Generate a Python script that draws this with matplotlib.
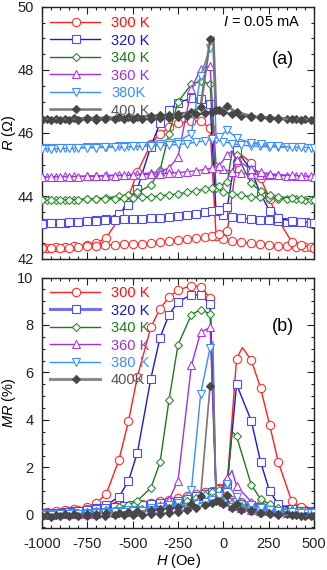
import numpy as np
import matplotlib
matplotlib.use('Agg')
import matplotlib.pyplot as plt
from matplotlib.ticker import MultipleLocator

plt.rcParams['font.family'] = ['Liberation Sans', 'DejaVu Sans']
plt.rcParams['mathtext.fontset'] = 'custom'
plt.rcParams['mathtext.it'] = 'Liberation Sans:italic'
plt.rcParams['mathtext.rm'] = 'Liberation Sans'

# --- data ---
TEMPS = [300, 320, 340, 360, 380, 400]
LABELS_A = ['300 K', '320 K', '340 K', '360 K', '380K', '400 K']
LABELS_B = ['300 K', '320 K', '340 K', '360 K', '380 K', '400K']

# baseline resistance (Ohm) for each temperature
R0 = [42.3, 43.1, 43.85, 44.6, 45.5, 46.45]

# field sweep from +500 down to -1000 Oe
H_DN = [500, 450, 400, 350, 300, 250, 200, 150, 100, 50, 0, -40, -73, -125, -176,
        -250, -300, -349, -400, -474, -523, -575, -645, -700, -750, -825, -875,
        -925, -975, -1000]
# field sweep from -1000 back up to +500 Oe
H_UP = [-1000, -950, -900, -850, -800, -750, -700, -650, -600, -550, -500, -450,
        -400, -350, -300, -250, -200, -150, -100, -60, -25, 22, 73, 154, 205,
        255, 303, 376, 426, 485, 500]

# MR (%) on the down sweep
MR_DN_300 = [0.18, 0.2, 0.22, 0.25, 0.3, 0.35, 0.42, 0.48, 0.55, 0.65, 0.8, 1.0, 9.13, 9.62,
             9.66, 9.47, 9.18, 8.68, 7.9, 5.82, 3.95, 2.33, 0.9, 0.49, 0.35, 0.25, 0.2,
             0.17, 0.12, 0.1]
MR_DN_320 = [0.12, 0.15, 0.18, 0.2, 0.25, 0.3, 0.33, 0.4, 0.45, 0.55, 0.7, 0.95, 8.88, 9.26,
             9.28, 8.97, 8.43, 7.47, 5.73, 2.62, 1.43, 0.77, 0.42, 0.29, 0.22, 0.15, 0.12,
             0.1, 0.08, 0.05]
MR_DN_340 = [0.05, 0.08, 0.1, 0.12, 0.15, 0.2, 0.25, 0.3, 0.38, 0.5, 0.65, 0.9, 8.47, 8.64,
             8.44, 7.16, 4.82, 2.21, 1.13, 0.6, 0.42, 0.33, 0.22, 0.15, 0.12, 0.08, 0.06,
             0.05, 0.03, 0.02]
MR_DN_360 = [0.03, 0.05, 0.07, 0.1, 0.12, 0.15, 0.18, 0.22, 0.28, 0.38, 0.55, 0.8, 7.9, 7.7,
             6.3, 1.44, 0.64, 0.4, 0.3, 0.22, 0.18, 0.15, 0.12, 0.1, 0.08, 0.06, 0.05,
             0.04, 0.03, 0.02]
MR_DN_380 = [0.08, 0.08, 0.1, 0.1, 0.12, 0.14, 0.16, 0.2, 0.25, 0.35, 0.5, 0.7, 7.05, 5.1,
             1.06, 0.5, 0.4, 0.33, 0.28, 0.22, 0.2, 0.17, 0.14, 0.12, 0.1, 0.08, 0.06,
             0.05, 0.03, 0.02]
MR_DN_400 = [-0.05, -0.03, 0.0, 0.02, 0.05, 0.08, 0.1, 0.15, 0.2, 0.3, 0.45, 0.6, 5.45, 0.8,
             0.45, 0.35, 0.28, 0.24, 0.2, 0.15, 0.12, 0.1, 0.08, 0.06, 0.05, 0.03, 0.02,
             0.0, -0.02, -0.03]

# MR (%) on the up sweep
MR_UP_300 = [0.08, 0.1, 0.12, 0.15, 0.2, 0.25, 0.3, 0.33, 0.36, 0.38, 0.4, 0.45, 0.5, 0.57,
             0.65, 0.72, 0.8, 0.88, 0.95, 1.0, 1.15, 1.4, 6.58, 6.52, 5.36, 3.8, 2.23,
             0.6, 0.35, 0.17, 0.15]
MR_UP_320 = [0.05, 0.08, 0.1, 0.14, 0.18, 0.22, 0.26, 0.3, 0.33, 0.37, 0.4, 0.43, 0.46, 0.5,
             0.55, 0.6, 0.67, 0.78, 0.9, 0.98, 1.08, 1.3, 5.5, 3.97, 2.25, 1.0, 0.46,
             0.25, 0.18, 0.12, 0.1]
MR_UP_340 = [0.02, 0.04, 0.05, 0.07, 0.08, 0.1, 0.12, 0.14, 0.16, 0.18, 0.2, 0.25, 0.3, 0.35,
             0.42, 0.5, 0.6, 0.72, 0.85, 0.95, 1.05, 1.35, 3.31, 1.27, 0.68, 0.45, 0.3,
             0.2, 0.15, 0.08, 0.05]
MR_UP_360 = [0.0, 0.01, 0.02, 0.03, 0.04, 0.05, 0.06, 0.08, 0.1, 0.12, 0.14, 0.16, 0.2, 0.23,
             0.27, 0.32, 0.38, 0.45, 0.55, 0.65, 0.8, 1.55, 1.22, 0.56, 0.35, 0.25, 0.18,
             0.12, 0.08, 0.05, 0.04]
MR_UP_380 = [0.0, 0.0, 0.02, 0.03, 0.05, 0.06, 0.08, 0.1, 0.12, 0.14, 0.16, 0.18, 0.2, 0.22,
             0.25, 0.3, 0.35, 0.45, 0.55, 0.65, 0.8, 1.31, 0.75, 0.4, 0.3, 0.22, 0.18,
             0.12, 0.1, 0.08, 0.08]
MR_UP_400 = [-0.05, -0.07, -0.05, -0.06, -0.05, -0.03, -0.05, -0.03, -0.02, -0.02, 0.0, 0.0,
             0.02, 0.05, 0.08, 0.12, 0.2, 0.3, 0.4, 0.5, 0.6, 0.85, 0.45, 0.2, 0.1, 0.05,
             0.0, -0.02, -0.05, -0.05, -0.05]

MR_DN = [MR_DN_300, MR_DN_320, MR_DN_340, MR_DN_360, MR_DN_380, MR_DN_400]
MR_UP = [MR_UP_300, MR_UP_320, MR_UP_340, MR_UP_360, MR_UP_380, MR_UP_400]

# line-only points (no marker drawn there)
EXTRA_T = [300, 340, 360, 380, 400]
EXTRA_BRANCH = ['up', 'up', 'up', 'dn', 'dn']
EXTRA_H = [105, 48, 48, -57, -55]
EXTRA_MR = [7.05, 3.52, 1.87, 7.3, 5.57]

# --- styles ---
LINE_COL = ['#ff2020', '#1a1ad0', '#1f7a1f', '#a030e0', '#3a8cff', '#777777']
MK_COL = ['#ff3030', '#4c4cf0', '#2a8a2a', '#a83ae6', '#3a8cff', '#474747']
MARKERS = ['o', 's', 'D', '^', 'v', 'D']
MSIZE = [6, 6, 4.3, 6, 6, 4.5]
FILLED = [False, False, False, False, False, True]
TEXT_COL = ['#ff1010', '#1515cc', '#1d7a1d', '#9a30d8', '#3a8cff', '#555555']


def line_data(i, branch):
    if branch == 'dn':
        h, v = list(H_DN), list(MR_DN[i])
    else:
        h, v = list(H_UP), list(MR_UP[i])
    for t, b, eh, ev in zip(EXTRA_T, EXTRA_BRANCH, EXTRA_H, EXTRA_MR):
        if t == TEMPS[i] and b == branch:
            h.append(eh)
            v.append(ev)
    h = np.array(h, float)
    v = np.array(v, float)
    order = np.argsort(h)
    if branch == 'dn':
        order = order[::-1]
    return h[order], v[order]


def draw_series(ax, to_y, lw_list):
    for i in range(len(TEMPS)):
        for branch in ('dn', 'up'):
            hl, vl = line_data(i, branch)
            ax.plot(hl, to_y(i, vl), color=LINE_COL[i], lw=lw_list[i], zorder=2 + i)
            hm = np.array(H_DN if branch == 'dn' else H_UP, float)
            vm = np.array(MR_DN[i] if branch == 'dn' else MR_UP[i], float)
            ax.plot(hm, to_y(i, vm), ls='none', marker=MARKERS[i], ms=MSIZE[i],
                    mec=MK_COL[i], mfc=MK_COL[i] if FILLED[i] else 'white',
                    mew=0.8, zorder=2 + i)


def draw_legend(ax, labels, ax_h, top, dy, lws, lcols):
    w = 272.0
    for i, lab in enumerate(labels):
        y = 1 - (top + i * dy) / ax_h
        ax.plot([8 / w, 58 / w], [y, y], transform=ax.transAxes, color=lcols[i],
                lw=lws[i], clip_on=False, zorder=20)
        ax.plot([34 / w], [y], transform=ax.transAxes, ls='none', marker=MARKERS[i],
                ms=MSIZE[i], mec=MK_COL[i],
                mfc=MK_COL[i] if FILLED[i] else 'white', mew=0.8, zorder=21)
        ax.text(69 / w, y, lab, transform=ax.transAxes, color=TEXT_COL[i],
                fontsize=10.5, va='center_baseline', ha='left', zorder=22)


def style_axis(ax):
    ax.set_xlim(-1000, 500)
    ax.xaxis.set_major_locator(MultipleLocator(250))
    ax.xaxis.set_minor_locator(MultipleLocator(50))
    ax.yaxis.set_minor_locator(MultipleLocator(0.5))
    ax.tick_params(which='both', direction='in', top=True, right=True, width=0.8,
                   labelsize=10.5, colors='#222222')
    ax.tick_params(which='major', length=5)
    ax.tick_params(which='minor', length=2.5)
    ax.tick_params(axis='y', which='both', pad=6)
    ax.tick_params(axis='x', which='both', pad=6.5)
    for s in ax.spines.values():
        s.set_linewidth(1.0)
        s.set_color('#222222')


fig = plt.figure(figsize=(3.27, 5.70), dpi=100)
W, Hf = 327.0, 570.0

# --- panel (a): resistance ---
ax1 = fig.add_axes([42 / W, 1 - 259 / Hf, 272 / W, 252 / Hf])
draw_series(ax1, lambda i, v: R0[i] * (1 + v / 100.0), [1, 1, 1, 1, 1, 1.8])
style_axis(ax1)
ax1.set_ylim(42, 50)
ax1.yaxis.set_major_locator(MultipleLocator(2))
ax1.tick_params(labelbottom=False)
ax1.set_ylabel('$R$ (Ω)', fontsize=10.5)
ax1.yaxis.set_label_coords(-0.088, 0.5)
draw_legend(ax1, LABELS_A, 252.0, 14.7, 17.5, [1, 1, 1, 1, 1, 1.8], LINE_COL)
ax1.text(0.949, 0.94, '$I$ = 0.05 mA', transform=ax1.transAxes, ha='right',
         va='center', fontsize=10.5)
ax1.text(0.886, 0.79, '(a)', transform=ax1.transAxes, ha='center', va='center',
         fontsize=13)

# --- panel (b): magnetoresistance ---
ax2 = fig.add_axes([42 / W, 1 - 528 / Hf, 272 / W, 250.5 / Hf])
draw_series(ax2, lambda i, v: v, [1, 1, 1, 1, 1, 1.2])
style_axis(ax2)
ax2.set_ylim(-0.55, 10)
ax2.yaxis.set_major_locator(MultipleLocator(2))
ax2.set_xticks([-1000, -750, -500, -250, 0, 250, 500])
ax2.set_xticklabels(['-1000', '-750', '-500', '-250', '0', '250', '500'])
ax2.set_ylabel('$MR$ (%)', fontsize=10.5)
ax2.yaxis.set_label_coords(-0.088, 0.5)
ax2.set_xlabel('$H$ (Oe)', fontsize=10.5)
ax2.xaxis.set_label_coords(0.5, -0.094)
leg_cols_b = list(LINE_COL)
leg_cols_b[1] = '#7272ee'
leg_cols_b[5] = '#8c8c8c'
draw_legend(ax2, LABELS_B, 250.5, 14.2, 17.45, [1, 2.2, 1, 1, 1, 2.2], leg_cols_b)
ax2.text(0.886, 0.804, '(b)', transform=ax2.transAxes, ha='center', va='center',
         fontsize=13)

fig.savefig('out.png', dpi=100)
